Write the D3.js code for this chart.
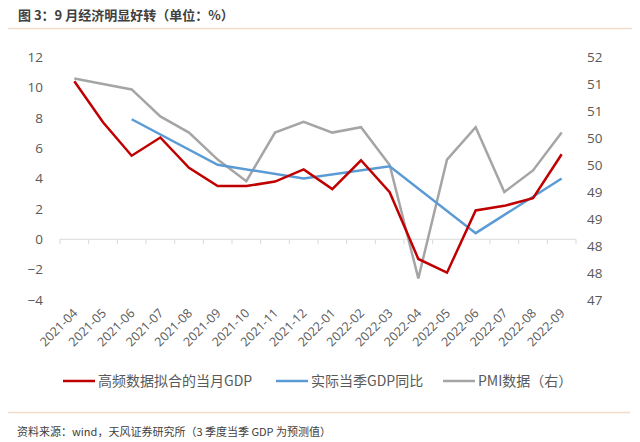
<!DOCTYPE html>
<html>
<head>
<meta charset="utf-8">
<title>图3</title>
<script src="https://cdn.jsdelivr.net/npm/d3@7"></script>
<style>
  body { margin: 0; background: #fff; }
  text { font-family: "Noto Sans CJK SC", "Noto Sans", sans-serif; }
</style>
</head>
<body>
<div id="chart"></div>
<script>
// months on the x axis
var months = ["2021-04","2021-05","2021-06","2021-07","2021-08","2021-09","2021-10","2021-11","2021-12",
              "2022-01","2022-02","2022-03","2022-04","2022-05","2022-06","2022-07","2022-08","2022-09"];
// high-frequency monthly GDP fit (left axis)
var gdpMonthly = [10.4, 7.7, 5.5, 6.7, 4.7, 3.5, 3.5, 3.8, 4.6, 3.3, 5.2, 3.1, -1.3, -2.2, 1.9, 2.2, 2.7, 5.6];
// actual quarterly GDP, only at quarter months (left axis)
var gdpQuarter = [null, null, 7.9, null, null, 4.9, null, null, 4.0, null, null, 4.8, null, null, 0.4, null, null, 4.0];
// PMI (right axis)
var pmi = [51.1, 51.0, 50.9, 50.4, 50.1, 49.6, 49.2, 50.1, 50.3, 50.1, 50.2, 49.5, 47.4, 49.6, 50.2, 49.0, 49.4, 50.1];

var leftTicks = [12, 10, 8, 6, 4, 2, 0, -2, -4];
var rightTicks = [51.5, 51, 50.5, 50, 49.5, 49, 48.5, 48, 47.5, 47];

var seriesNames = ["高频数据拟合的当月GDP", "实际当季GDP同比", "PMI数据（右）"];
var seriesColors = ["#c00000", "#5b9bd5", "#a5a5a5"];

var width = 640, height = 442;
var plot = {left: 60, right: 576, top: 57, bottom: 300};

var svg = d3.select("#chart").append("svg")
    .attr("width", width)
    .attr("height", height);

// title + rules
svg.append("text")
    .attr("x", 18).attr("y", 20)
    .attr("font-size", 13).attr("font-weight", "bold")
    .attr("fill", "#404040")
    .text("图 3：9 月经济明显好转（单位：%）");
svg.append("line")
    .attr("x1", 8).attr("x2", 632).attr("y1", 28.5).attr("y2", 28.5)
    .attr("stroke", "#f3dcc9").attr("stroke-width", 1.5);
svg.append("line")
    .attr("x1", 8).attr("x2", 630).attr("y1", 412.5).attr("y2", 412.5)
    .attr("stroke", "#f3dcc9").attr("stroke-width", 1.5);
svg.append("text")
    .attr("x", 17).attr("y", 436)
    .attr("font-size", 11).attr("fill", "#404040")
    .text("资料来源：wind，天风证券研究所（3 季度当季 GDP 为预测值）");

// scales
var x = d3.scaleBand().domain(months).range([plot.left, plot.right]);
var yL = d3.scaleLinear().domain([-4, 12]).range([plot.bottom, plot.top]);
var yR = d3.scaleLinear().domain([47, 51.5]).range([plot.bottom, plot.top]);

// left axis labels
var axL = svg.append("g")
    .attr("transform", "translate(" + (plot.left - 17) + ",0)")
    .call(d3.axisLeft(yL).tickValues(leftTicks).tickSize(0).tickPadding(0));
axL.select(".domain").remove();
axL.selectAll("text").attr("font-size", 13.5).attr("fill", "#595959")
    .style("font-family", "'Open Sans', sans-serif");

// right axis labels, rounded like Excel's "0" format
var axR = svg.append("g")
    .attr("transform", "translate(" + (plot.right + 11) + ",0)")
    .call(d3.axisRight(yR).tickValues(rightTicks).tickSize(0).tickPadding(0)
      .tickFormat(function(d) { return Math.floor(d + 0.5); }));
axR.select(".domain").remove();
axR.selectAll("text").attr("font-size", 13.5).attr("fill", "#595959")
    .style("font-family", "'Open Sans', sans-serif");

// zero line with category tick marks
svg.append("line")
    .attr("x1", plot.left).attr("x2", plot.right)
    .attr("y1", yL(0)).attr("y2", yL(0))
    .attr("stroke", "#d9d9d9").attr("stroke-width", 1);
var bounds = months.map(function(m) { return x(m); }).concat([plot.right]);
svg.selectAll(".tk").data(bounds).enter().append("line")
    .attr("x1", function(d) { return d; }).attr("x2", function(d) { return d; })
    .attr("y1", yL(0)).attr("y2", yL(0) + 5)
    .attr("stroke", "#d9d9d9");

// x labels, rotated
svg.selectAll(".xl").data(months).enter().append("text")
    .attr("transform", function(d) {
      return "translate(" + (x(d) + x.bandwidth() / 2 + 4) + "," + (plot.bottom + 14) + ") rotate(-45)";
    })
    .attr("text-anchor", "end")
    .attr("font-size", 12.5).attr("fill", "#595959")
    .style("font-family", "'Open Sans', sans-serif")
    .text(function(d) { return d; });

function cx(i) { return x(months[i]) + x.bandwidth() / 2; }

// series
var lineL = d3.line().x(function(d) { return cx(d.i); }).y(function(d) { return yL(d.v); });
var lineR = d3.line().x(function(d) { return cx(d.i); }).y(function(d) { return yR(d.v); });

function pts(arr) {
  return arr.map(function(v, i) { return {i: i, v: v}; }).filter(function(d) { return d.v != null; });
}

svg.append("path").datum(pts(pmi)).attr("d", lineR)
    .attr("fill", "none").attr("stroke", seriesColors[2]).attr("stroke-width", 2.5);
svg.append("path").datum(pts(gdpQuarter)).attr("d", lineL)
    .attr("fill", "none").attr("stroke", seriesColors[1]).attr("stroke-width", 2.5);
svg.append("path").datum(pts(gdpMonthly)).attr("d", lineL)
    .attr("fill", "none").attr("stroke", seriesColors[0]).attr("stroke-width", 2.5);

// legend
var legendX = [63, 276, 443];
var lg = svg.selectAll(".lg").data(seriesNames).enter().append("g")
    .attr("transform", function(d, i) { return "translate(" + legendX[i] + ",381)"; });
lg.append("line").attr("x1", 0).attr("x2", 32).attr("y1", 0).attr("y2", 0)
    .attr("stroke", function(d, i) { return seriesColors[i]; }).attr("stroke-width", 2.5);
lg.append("text").attr("x", 35).attr("y", 5)
    .attr("font-size", 14).attr("fill", "#595959")
    .text(function(d) { return d; });
</script>
</body>
</html>
